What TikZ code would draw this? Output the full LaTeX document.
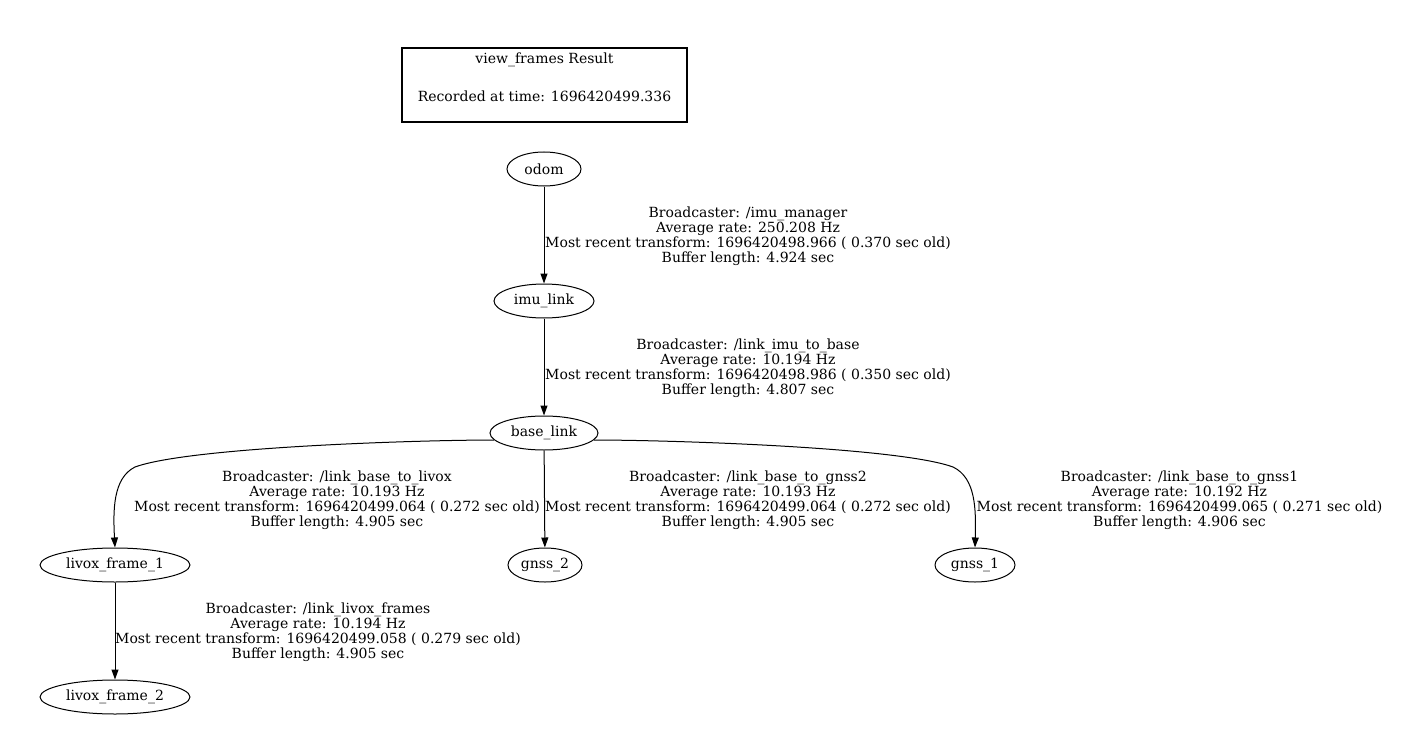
\documentclass[tikz,border=0pt]{standalone}
\usepackage{fontspec}
\setmainfont{DejaVu Serif}
\usetikzlibrary{shapes.geometric,arrows.meta}
\begin{document}
\begin{tikzpicture}[x=0.75pt,y=-0.75pt,
  every node/.style={font=\fontsize{10.5pt}{11.25pt}\selectfont},
  frame/.style={draw,ellipse,inner sep=0pt,minimum height=25.5pt,line width=0.75pt},
  lbl/.style={align=center,inner sep=0pt},
  tf/.style={draw,line width=0.75pt,-{Triangle[length=7.5pt,width=5.25pt]}}]
\useasboundingbox (0,0) rectangle (1423,756);
\node[draw,line width=1.5pt,minimum width=213.75pt,minimum height=55.5pt,inner sep=0pt] (title) at (544.5,85) {};
\node[lbl] (titletext) at (544.5,77) {view\_frames Result\\[17.25pt]Recorded at time: 1696420499.336};

\node[frame,minimum width=55.5pt] (odom) at (544,169) {odom};
\node[frame,minimum width=75pt] (imu) at (544,301) {imu\_link};
\node[frame,minimum width=81pt] (base) at (544,433) {base\_link};
\node[frame,minimum width=112.5pt] (livox1) at (115,565) {livox\_frame\_1};
\node[frame,minimum width=55.5pt] (gnss2) at (545,565) {gnss\_2};
\node[frame,minimum width=60pt] (gnss1) at (975,565) {gnss\_1};
\node[frame,minimum width=112.5pt] (livox2) at (115,697) {livox\_frame\_2};

\draw[tf] (odom) -- (imu);
\draw[tf] (imu) -- (base);
\draw[tf] (base) -- (gnss2);
\draw[tf] (livox1) -- (livox2);
\coordinate (lbend) at (135,467);
\coordinate (rbend) at (953,467);
\draw[tf] (base.188) .. controls (420,440) and (190,447) .. (lbend) .. controls (113,478) and (113,510) .. (livox1.north);
\draw[tf] (base.352) .. controls (668,440) and (898,447) .. (rbend) .. controls (976,478) and (976,510) .. (gnss1.north);

\node[lbl] (l1) at (748,236.5) {Broadcaster: /imu\_manager\\Average rate: 250.208 Hz\\Most recent transform: 1696420498.966 ( 0.370 sec old)\\Buffer length: 4.924 sec};
\node[lbl] (l2) at (748,368.5) {Broadcaster: /link\_imu\_to\_base\\Average rate: 10.194 Hz\\Most recent transform: 1696420498.986 ( 0.350 sec old)\\Buffer length: 4.807 sec};
\node[lbl] (l3) at (337,500.5) {Broadcaster: /link\_base\_to\_livox\\Average rate: 10.193 Hz\\Most recent transform: 1696420499.064 ( 0.272 sec old)\\Buffer length: 4.905 sec};
\node[lbl] (l4) at (748,500.5) {Broadcaster: /link\_base\_to\_gnss2\\Average rate: 10.193 Hz\\Most recent transform: 1696420499.064 ( 0.272 sec old)\\Buffer length: 4.905 sec};
\node[lbl] (l5) at (1179.5,500.5) {Broadcaster: /link\_base\_to\_gnss1\\Average rate: 10.192 Hz\\Most recent transform: 1696420499.065 ( 0.271 sec old)\\Buffer length: 4.906 sec};
\node[lbl] (l6) at (318,632.5) {Broadcaster: /link\_livox\_frames\\Average rate: 10.194 Hz\\Most recent transform: 1696420499.058 ( 0.279 sec old)\\Buffer length: 4.905 sec};
\end{tikzpicture}
\end{document}
